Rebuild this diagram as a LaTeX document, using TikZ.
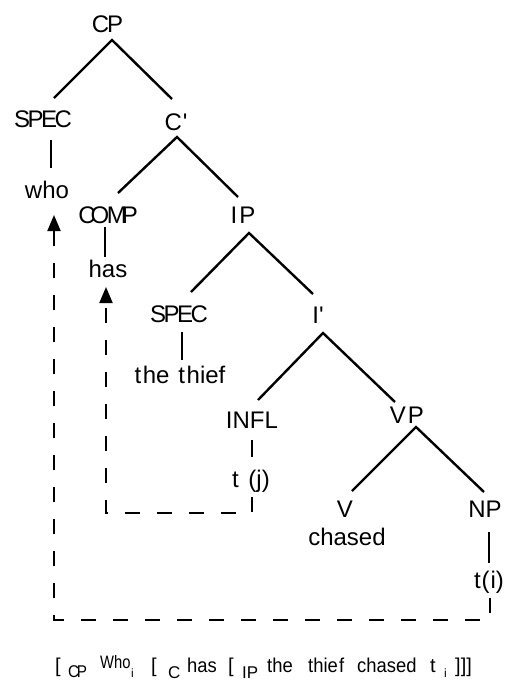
\documentclass[tikz,border=0pt]{standalone}
\usepackage{fontspec}
\setmainfont{Liberation Sans}
\usetikzlibrary{arrows.meta}
\newcommand\narrow[1]{\scalebox{0.92}[1]{#1}}
\begin{document}
\begin{tikzpicture}[x=1pt,y=-1pt,
  lbl/.style={anchor=base,inner sep=0pt,font=\fontsize{24}{24}\selectfont},
  branch/.style={line width=2.4pt},
  move/.style={line width=2pt,dash pattern=on 15pt off 17pt},
  tip/.style={-{Triangle[length=16pt,width=13pt]}},
  sent/.style={anchor=base west,inner sep=0pt,font=\fontsize{20}{20}\selectfont},
  sub/.style={anchor=base west,inner sep=0pt,font=\fontsize{17}{17}\selectfont},
]
\useasboundingbox (0,0) rectangle (507,681);

% tree labels, placed by their baselines
\node[lbl] (cp)     at (107.5,32) {C\kern-2pt P};
\node[lbl] (specc)  at (43,127)   {S\kern-2.5pt P\kern-2.5pt E\kern-2.5pt C};
\node[lbl] (cbar)   at (176,130)  {C\kern1pt\textquotesingle};
\node[lbl] (who)    at (47,198)   {who};
\node[lbl] (comp)   at (108,223)  {C\kern-5pt O\kern-2.5pt M\kern-5pt P};
\node[lbl] (ip)     at (243,223)  {I\kern2pt P};
\node[lbl] (has)    at (108,277)  {has};
\node[lbl] (speci)  at (179,322)  {S\kern-2.5pt P\kern-2.5pt E\kern-2.5pt C};
\node[lbl] (ibar)   at (318,323)  {I\textquotesingle};
\node[lbl] (thief)  at (180,383)  {t\kern1.5pt he\hspace{9pt}t\kern1.5pt hief};
\node[lbl] (infl)   at (252,428)  {INFL};
\node[lbl] (vp)     at (407,423)  {V\kern2pt P};
\node[lbl] (tj)     at (251,487)  {t\hspace{0.4em}(j)};
\node[lbl] (v)      at (345,517)  {V};
\node[lbl] (np)     at (485,517)  {NP};
\node[lbl] (chased) at (347,545)  {chased};
\node[lbl] (ti)     at (489,588)  {t\kern1pt(\kern1pt i)};

% branches
\draw[branch] ([shift={(11,-29)}]specc.base) -- ([shift={(4.5,8)}]cp.base) -- ([shift={(-4,-31)}]cbar.base);
\draw[branch] ([shift={(8,13)}]specc.base) -- ([shift={(4,-30)}]who.base);
\draw[branch] ([shift={(10,-30)}]comp.base) -- ([shift={(1,7)}]cbar.base) -- ([shift={(-5,-26)}]ip.base);
\draw[branch] ([shift={(-3,4)}]comp.base) -- ([shift={(-3,-20)}]has.base);
\draw[branch] ([shift={(12,-30)}]speci.base) -- ([shift={(6,10)}]ip.base) -- ([shift={(-5,-29)}]ibar.base);
\draw[branch] ([shift={(3,10)}]speci.base) -- ([shift={(2,-23)}]thief.base);
\draw[branch] ([shift={(6,-28)}]infl.base) -- ([shift={(5,10)}]ibar.base) -- ([shift={(-12,-21)}]vp.base);
\draw[branch] ([shift={(0,12)}]infl.base) -- ([shift={(1,-30)}]tj.base);
\draw[branch] ([shift={(7,-26)}]v.base) -- ([shift={(9,4)}]vp.base) -- ([shift={(-1,-25)}]np.base);
\draw[branch] ([shift={(4,15)}]np.base) -- ([shift={(0,-25)}]ti.base);

% movement paths
\draw[move,tip] ([shift={(1,10)}]tj.base) -- ++(0,16) -| ([shift={(-2,10)}]has.base);
\draw[move,tip] ([shift={(1,10)}]ti.base) -- ++(0,22) -| ([shift={(7,17)}]who.base);

% bracketed sentence
\node[sent] (s1)  at (55,672)  {[};
\node[sub]  (s2)  at (68,677)  {\scalebox{0.9}[1]{C\kern-2.5pt P}};
\node[sub]  (s3)  at (100,668) {\fontsize{18}{18}\selectfont\scalebox{0.82}[1]{Who}};
\node[sub]  (s4)  at (131,677) {\fontsize{12}{12}\selectfont i};
\node[sent] (s5)  at (151,672) {[};
\node[sub]  (s6)  at (168,678) {C};
\node[sent] (s7)  at (187,672) {\narrow{has}};
\node[sent] (s8)  at (228,672) {[};
\node[sub]  (s9)  at (242,678) {IP};
\node[sent] (s10) at (267,672) {\narrow{the}};
\node[sent] (s11) at (308,672) {\narrow{thie\kern1.5pt f}};
\node[sent] (s12) at (357,672) {\narrow{chased}};
\node[sent] (s13) at (430,672) {t};
\node[sub]  (s14) at (444,677) {\fontsize{12}{12}\selectfont i};
\node[sent] (s15) at (455,672) {]]]};
\end{tikzpicture}
\end{document}
